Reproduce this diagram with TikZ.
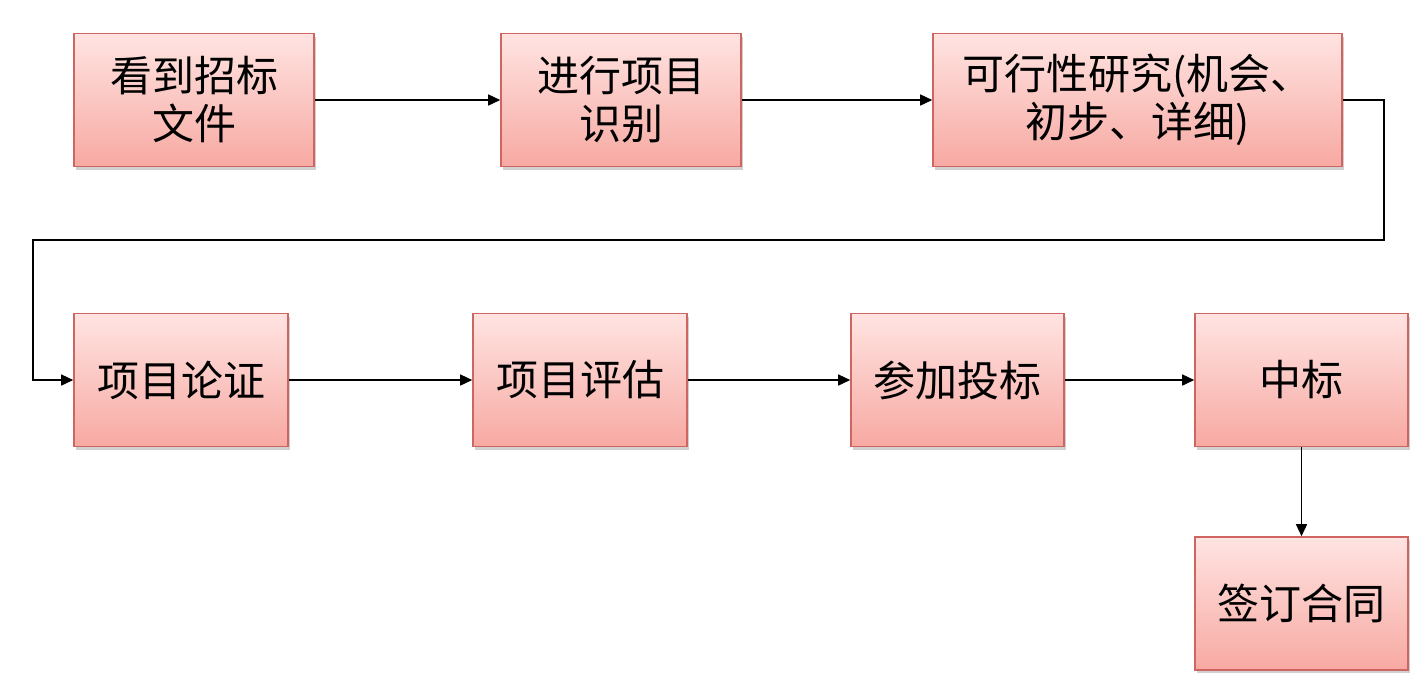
\documentclass[tikz,border=0pt]{standalone}
\usepackage{fontspec}
\setmainfont{Noto Sans CJK SC}
\usepackage{xcolor}
\usetikzlibrary{arrows.meta,shadows}
\definecolor{boxtop}{HTML}{FFE4E2}
\definecolor{boxbot}{HTML}{F7A9A2}
\definecolor{boxline}{HTML}{CF6560}

\begin{document}
\begin{tikzpicture}[x=0.5pt,y=-0.5pt,
  pbox/.style={rectangle,draw=boxline,line width=0.8pt,top color=boxtop,bottom color=boxbot,
    minimum width=#1*0.5pt,minimum height=66.5pt,inner sep=0pt,align=center,
    font=\fontsize{21}{24}\selectfont,
    drop shadow={shadow xshift=1.2pt,shadow yshift=-1.5pt,opacity=0.3,fill=black!60}},
  arr/.style={-{Triangle[length=6pt,width=5.5pt]},line width=0.75pt,black}]
\useasboundingbox[fill=white] (0,0) rectangle (1417,677);
\node[pbox=240] (kan) at (194,100) {看到招标\\文件};
\node[pbox=240] (shibie) at (621,100) {进行项目\\识别};
\node[pbox=409] (kexing) at (1137.5,100) {可行性研究(机会、\\初步、详细)};
\node[pbox=214] (lunzheng) at (181,380) {项目论证};
\node[pbox=214] (pinggu) at (580,380) {项目评估};
\node[pbox=213] (toubiao) at (957.5,380) {参加投标};
\node[pbox=213] (zhongbiao) at (1301.5,380) {中标};
\node[pbox=213] (hetong) at (1301.5,603.5) {签订合同};
\coordinate (turnR) at (1384,240);
\coordinate (turnL) at (33,240);
\draw[arr] (kan) -- (shibie);
\draw[arr] (shibie) -- (kexing);
\draw[arr] (kexing.east) -| (turnR) -- (turnL) |- (lunzheng.west);
\foreach \x/\y in {lunzheng/pinggu,pinggu/toubiao,toubiao/zhongbiao,zhongbiao/hetong} \draw[arr] (\x)--(\y);
\end{tikzpicture}
\end{document}
